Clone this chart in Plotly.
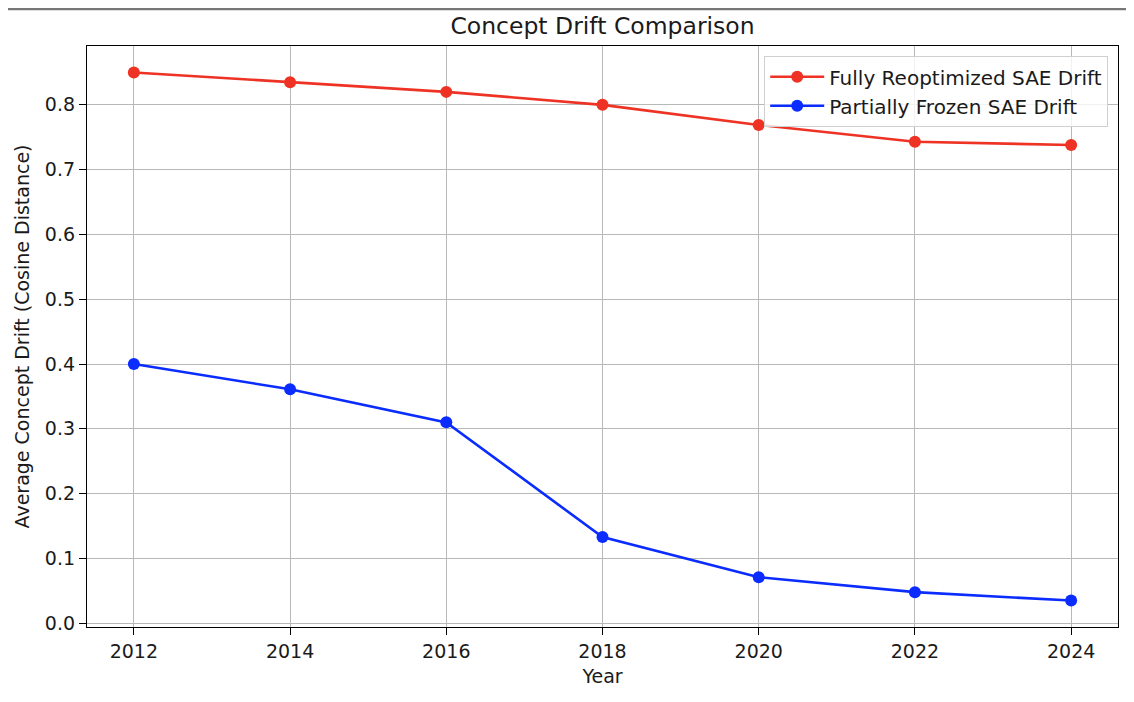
import plotly.graph_objects as go

years = [2012, 2014, 2016, 2018, 2020, 2022, 2024]
fully_reopt = [0.850, 0.835, 0.820, 0.800, 0.769, 0.743, 0.738]
partially_frozen = [0.400, 0.361, 0.310, 0.133, 0.071, 0.048, 0.035]
series_names = ["Fully Reoptimized SAE Drift", "Partially Frozen SAE Drift"]
y_ticks = [0.0, 0.1, 0.2, 0.3, 0.4, 0.5, 0.6, 0.7, 0.8]

FONT = "DejaVu Sans"
TXT = "#1a1a1a"

W, H = 1126, 694  # page body has an 8px margin
L, T, R, B = 79, 38, 16, 75
pw, ph = W - L - R, H - T - B

fig = go.Figure()
fig.add_trace(go.Scatter(
    x=years, y=fully_reopt, name=series_names[0], mode="lines+markers",
    line=dict(color="#EE3224", width=2.6),
    marker=dict(symbol="circle", size=12, color="#EE3224"),
))
fig.add_trace(go.Scatter(
    x=years, y=partially_frozen, name=series_names[1], mode="lines+markers",
    line=dict(color="#0A2CFF", width=2.6),
    marker=dict(symbol="circle", size=12, color="#0A2CFF"),
))

axis_common = dict(
    showline=True, linecolor="black", linewidth=1.3, mirror=True,
    ticks="outside", ticklen=7, tickwidth=1.3, tickcolor="black",
    showgrid=True, gridcolor="#b8b8b8", gridwidth=1.2,
    zeroline=False,
    tickfont=dict(family=FONT, size=19, color=TXT),
)

fig.update_layout(
    width=W, height=H,
    margin=dict(l=L, r=R, t=T, b=B),
    paper_bgcolor="white", plot_bgcolor="white",
    font=dict(family=FONT, color=TXT),
    title=dict(text="Concept Drift Comparison", x=0.5, xref="paper",
               y=1 - 18 / H, yref="container", yanchor="middle", xanchor="center",
               font=dict(family=FONT, size=23.5, color=TXT)),
    xaxis=dict(range=[2011.4, 2024.6], tickvals=years, ticktext=[str(y) for y in years],
               title=dict(text="Year", font=dict(family=FONT, size=19, color=TXT), standoff=8),
               **axis_common),
    yaxis=dict(range=[-0.0058, 0.8908], tickvals=y_ticks, ticktext=[f"{v:.1f}" for v in y_ticks],
               title=dict(text="Average Concept Drift (Cosine Distance)",
                          font=dict(family=FONT, size=19, color=TXT), standoff=10),
               **axis_common),
    legend=dict(x=(1100 - L) / pw, y=1 - (48 - T) / ph, xanchor="right", yanchor="top",
                bgcolor="rgba(255,255,255,0.8)", bordercolor="#d0d0d0", borderwidth=1.2,
                font=dict(family=FONT, size=20, color=TXT),
                itemwidth=54, tracegroupgap=0),
    showlegend=True,
    shapes=[
        dict(type="line", xref="paper", yref="paper", x0=-0.1, x1=(1123 - L) / pw,
             y0=1 + (T - 1) / ph, y1=1 + (T - 1) / ph, line=dict(color="#777777", width=2.5), layer="above"),
        dict(type="line", xref="paper", yref="paper", x0=(1123 - L) / pw, x1=(1123 - L) / pw,
             y0=-(B - 1) / ph, y1=1 + (T - 1) / ph, line=dict(color="#777777", width=2.5), layer="above"),
    ],
)

fig.write_html("out.html")
